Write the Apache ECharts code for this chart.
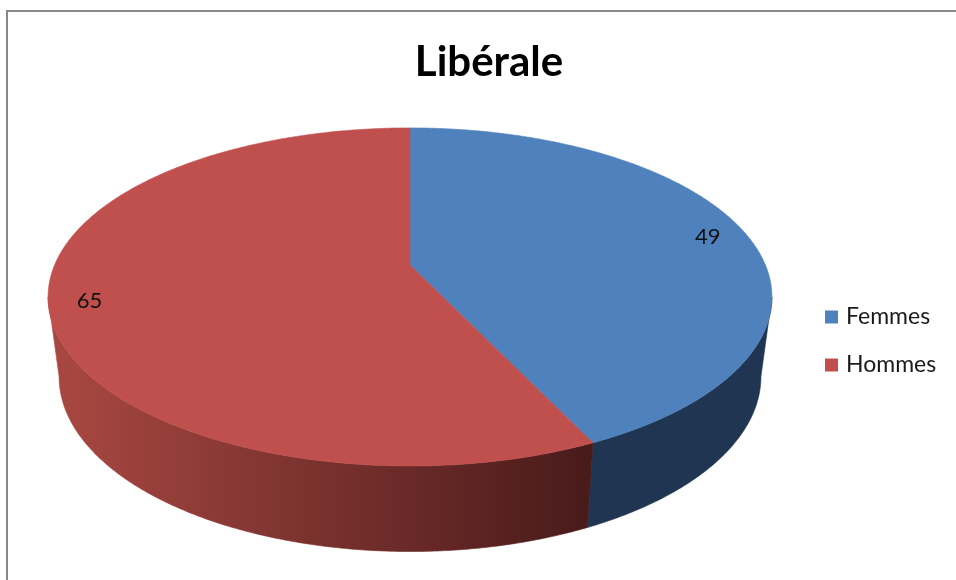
<!DOCTYPE html>
<html>
<head>
<meta charset="utf-8">
<script src="https://cdn.jsdelivr.net/npm/echarts@6/dist/echarts.min.js"></script>
<style>
  html, body { margin: 0; padding: 0; background: #ffffff; }
  #chart { width: 956px; height: 580px; }
</style>
</head>
<body>
<div id="chart"></div>
<script>
// Chart data
const chartTitle = 'Libérale';
const categories = ['Femmes', 'Hommes'];
const values = [49, 65];

// Slice styling
const topColors = ['#4F81BD', '#C0504D'];
const sideColors = [
  '#1F3552',
  { type: 'linear', x: 48, y: 0, x2: 593, y2: 0, global: true,
    colorStops: [{ offset: 0, color: '#AA4842' }, { offset: 1, color: '#481A1A' }] }
];

// Tilted-disc geometry: upper and lower rim of the pie
const TOP_RIM = { cx: 410, cy: 265, k: 355.4, sk: 163 };
const BOTTOM_RIM = { cx: 410, cy: 343.5, k: 344.6, sk: 168.7 };
const PERSP = 0.189;
// angle (clockwise from 12 o'clock) where the side wall silhouette lies
const SILHOUETTE = Math.acos(-PERSP) * 180 / Math.PI;

function project(rim, deg, r) {
  r = r == null ? 1 : r;
  const t = deg * Math.PI / 180;
  const u = r * Math.sin(t), v = r * Math.cos(t);
  const d = 1 + PERSP * v;
  return [rim.cx + rim.k * u / d, rim.cy - rim.sk * v / d];
}

function rimArc(rim, from, to) {
  const n = Math.max(2, Math.ceil(Math.abs(to - from) / 0.5));
  const pts = [];
  for (let i = 0; i <= n; i++) pts.push(project(rim, from + (to - from) * i / n));
  return pts;
}

const total = values.reduce((a, b) => a + b, 0);

function sliceRenderer(idx) {
  return function (params, api) {
    const val = api.value(0);
    const before = values.slice(0, idx).reduce((a, b) => a + b, 0);
    const a0 = before / total * 360;
    const a1 = (before + val) / total * 360;
    const children = [];

    // front-facing part of the outer wall
    const lo = Math.max(a0, SILHOUETTE);
    const hi = Math.min(a1, 360 - SILHOUETTE);
    if (hi > lo) {
      const pts = rimArc(TOP_RIM, lo, hi).concat(rimArc(BOTTOM_RIM, hi, lo));
      children.push({
        type: 'polygon', z2: 1,
        shape: { points: pts },
        style: { fill: sideColors[idx], stroke: sideColors[idx], lineWidth: 0.6 }
      });
    }

    // top face
    const topPts = [[TOP_RIM.cx, TOP_RIM.cy]].concat(rimArc(TOP_RIM, a0, a1));
    children.push({
      type: 'polygon', z2: 2 + idx * 0.1,
      shape: { points: topPts },
      style: { fill: topColors[idx], stroke: topColors[idx], lineWidth: 0.6 }
    });

    // value label
    const p = project(TOP_RIM, (a0 + a1) / 2, 0.89);
    children.push({
      type: 'text', z2: 5, x: p[0], y: p[1] + 3,
      style: {
        text: String(val), fill: '#111111',
        font: '22px Lato', align: 'center', verticalAlign: 'middle'
      }
    });
    return { type: 'group', children: children };
  };
}

const chart = echarts.init(document.getElementById('chart'), null, { renderer: 'canvas' });

chart.setOption({
  animation: false,
  backgroundColor: '#ffffff',
  graphic: [
    {
      type: 'rect', silent: true, z: -1,
      shape: { x: 7, y: 11, width: 1000, height: 700 },
      style: { fill: 'none', stroke: '#888888', lineWidth: 2 }
    },
    {
      type: 'text', silent: true, x: 489, y: 62,
      style: {
        text: chartTitle, fill: '#000000',
        font: 'bold 42px Lato', align: 'center', verticalAlign: 'middle'
      }
    }
  ],
  legend: {
    orient: 'vertical',
    left: 825,
    top: 305,
    padding: 0,
    icon: 'rect',
    itemWidth: 13,
    itemHeight: 13,
    itemGap: 24,
    selectedMode: false,
    textStyle: { fontFamily: 'Lato', fontSize: 23, lineHeight: 24, color: '#1a1a1a', padding: [0, 0, 0, 3] },
    data: categories
  },
  series: categories.map((name, i) => ({
    type: 'custom',
    name: name,
    coordinateSystem: 'none',
    silent: true,
    itemStyle: { color: topColors[i] },
    data: [[values[i]]],
    renderItem: sliceRenderer(i)
  }))
});
</script>
</body>
</html>
